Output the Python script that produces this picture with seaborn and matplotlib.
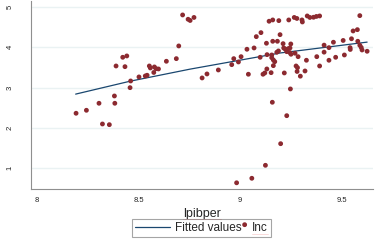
import numpy as np
import pandas as pd
import matplotlib
matplotlib.use("Agg")
import matplotlib.pyplot as plt
from matplotlib.legend_handler import HandlerPathCollection
from matplotlib.lines import Line2D
import seaborn as sns

# observed points (lpibper, Inc)
lpibper = [8.192, 8.243, 8.305, 8.381, 8.383, 8.322, 8.356, 8.389, 8.422, 8.442,
           8.433, 8.461, 8.458, 8.502, 8.533, 8.542, 8.553, 8.558, 8.578, 8.586,
           8.598, 8.575, 8.637, 8.686, 8.698, 8.717, 8.744, 8.754, 8.773, 8.813,
           8.837, 8.893, 8.959, 8.969, 8.992, 9.005, 9.034, 9.041, 9.069, 9.080,
           9.103, 9.099, 9.113, 9.122, 9.132, 9.133, 9.130, 9.143, 9.161, 9.191,
           9.156, 9.164, 9.171, 9.161, 9.156, 9.164, 9.153, 9.159, 9.184, 9.197,
           9.181, 9.189, 9.212, 9.215, 9.222, 9.230, 9.238, 9.246, 9.250, 9.230,
           9.246, 9.218, 9.240, 9.248, 9.230, 9.251, 9.267, 9.280, 9.271, 9.276,
           9.283, 9.281, 9.297, 9.286, 9.305, 9.307, 9.320, 9.327, 9.331, 9.344,
           9.362, 9.376, 9.392, 9.378, 9.392, 9.414, 9.414, 9.438, 9.438, 9.460,
           9.471, 9.508, 9.514, 9.542, 9.543, 9.549, 9.557, 9.578, 9.580, 9.590,
           9.590, 9.597, 9.601, 9.626, 9.200, 9.125, 9.058, 8.983]
inc = [2.365, 2.439, 2.613, 2.794, 2.613, 2.099, 2.082, 3.538, 3.754, 3.787,
       3.521, 3.166, 3.000, 3.266, 3.290, 3.308, 3.538, 3.489, 3.514, 3.471,
       3.464, 3.377, 3.655, 3.720, 4.035, 4.804, 4.697, 4.667, 4.742, 3.241,
       3.340, 3.439, 3.571, 3.720, 3.638, 3.769, 3.953, 3.333, 3.985, 4.266,
       4.365, 3.754, 3.333, 3.365, 3.464, 3.819, 4.102, 4.648, 4.680, 4.663,
       3.744, 3.687, 3.645, 4.151, 3.811, 3.546, 3.372, 2.638, 4.151, 4.315,
       3.878, 3.911, 4.092, 3.985, 3.960, 3.935, 3.968, 3.985, 4.084, 3.893,
       3.868, 3.365, 4.680, 2.968, 2.305, 3.829, 4.742, 4.717, 3.854, 3.538,
       3.496, 3.402, 3.285, 3.769, 4.680, 4.630, 3.414, 3.680, 4.779, 4.742,
       4.747, 4.767, 4.779, 3.769, 3.538, 4.055, 3.881, 3.680, 3.993, 4.127,
       3.754, 4.171, 3.811, 3.993, 3.948, 4.213, 4.407, 4.439, 4.151, 4.787,
       4.052, 3.998, 3.935, 3.903, 1.610, 1.074, 0.752, 0.640]

# fitted values
fit_x = [8.19, 8.458, 8.754, 9.197, 9.626]
fit_y = [2.84, 3.16, 3.46, 3.86, 4.13]

x_ticks = [8, 8.5, 9, 9.5]
x_ticklabels = ["8", "8.5", "9", "9.5"]
y_ticks = [1, 2, 3, 4, 5]

sns.set_style("white")
plt.rcParams['font.family'] = ['Liberation Sans', 'DejaVu Sans']

navy = "#1a476f"
maroon = "#8c2a30"
grey = "#8f8f8f"

fig = plt.figure(figsize=(3.79, 2.43), dpi=100)
ax = fig.add_axes([31 / 379, 1 - 189 / 243, 342 / 379, 188 / 243])

for yv in y_ticks:
    ax.axhline(yv, color="#eaf2f3", lw=1.0, zorder=0)

sns.lineplot(x=fit_x, y=fit_y, ax=ax, color=navy, lw=0.9, label="Fitted values",
             zorder=2)
sns.scatterplot(x=lpibper, y=inc, ax=ax, color=maroon, s=12, edgecolor="none",
                label="Inc", zorder=3)

ax.set_xlim(7.97, 9.655)
ax.set_ylim(0.486, 5.15)
ax.set_xticks(x_ticks)
ax.set_xticklabels(x_ticklabels)
ax.set_yticks(y_ticks)
ax.set_yticklabels([str(v) for v in y_ticks], rotation=90, va="center")
ax.tick_params(axis="both", labelsize=5.5, length=3.5, width=0.6, color=grey,
               labelcolor="#222222", direction="out")
ax.tick_params(axis="y", pad=9)
ax.tick_params(axis="x", pad=2)
for side in ["top", "right"]:
    ax.spines[side].set_visible(False)
for side in ["left", "bottom"]:
    ax.spines[side].set_color(grey)
    ax.spines[side].set_linewidth(0.8)

xl = ax.set_xlabel("lpibper", fontsize=9, labelpad=3)
ax.set_ylabel("")


class RightMarker(HandlerPathCollection):
    def get_xdata(self, legend, xdescent, ydescent, width, height, fontsize):
        x = [width - 0.25 * fontsize]
        return x, x


handles, labels = ax.get_legend_handles_labels()
ax.get_legend().remove()
leg = fig.legend(handles, labels, loc="center", ncol=2,
                 bbox_to_anchor=(201.5 / 379, 1 - 228.3 / 243),
                 fontsize=8.5, frameon=True, fancybox=False, edgecolor=grey,
                 handlelength=3.0, handletextpad=0.4, columnspacing=-2.5,
                 borderpad=0.25, borderaxespad=0,
                 handler_map={handles[1]: RightMarker(yoffsets=[0.8])})
leg.get_frame().set_linewidth(0.8)

# red spell-check underlines seen in the source image
fig.canvas.draw()
r = fig.canvas.get_renderer()
W, H = fig.bbox.width, fig.bbox.height
for t in [xl, leg.get_texts()[1]]:
    bb = t.get_window_extent(r)
    yb = (bb.y0 + 0.5) / H
    fig.add_artist(Line2D([bb.x0 / W, bb.x1 / W], [yb, yb], color="#e03030",
                          lw=0.6, transform=fig.transFigure))

fig.savefig("out.png", dpi=100)
